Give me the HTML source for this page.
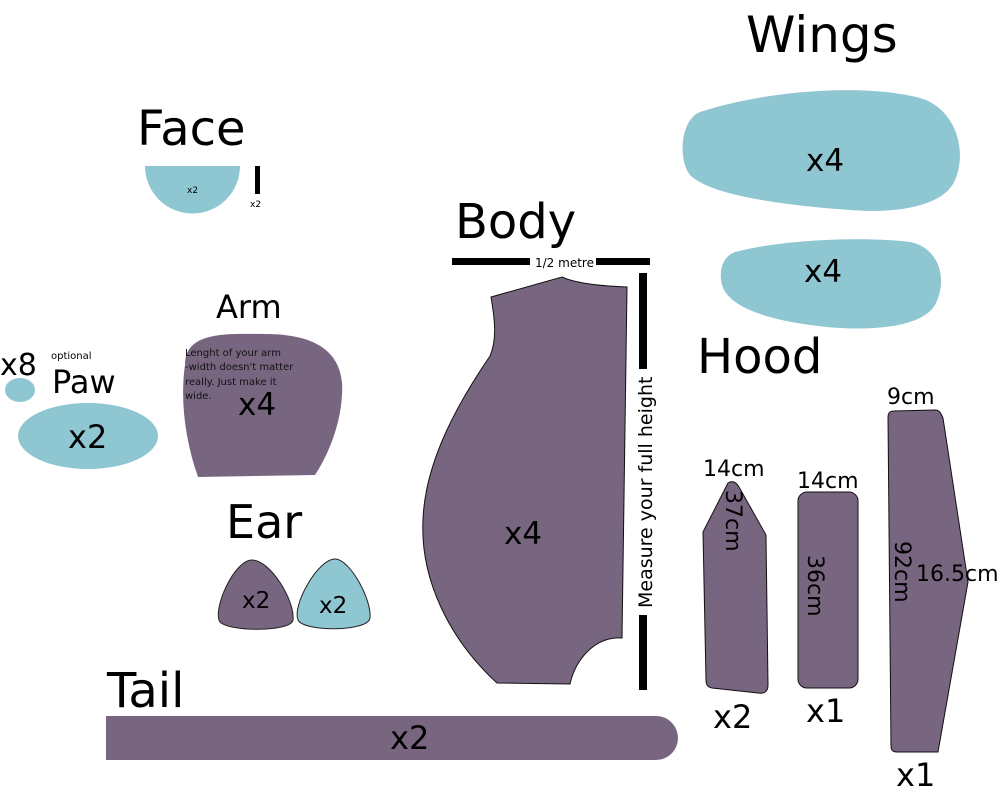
<!DOCTYPE html>
<html><head><meta charset="utf-8"><style>
html,body{margin:0;padding:0;background:#fff;}
svg{display:block;font-family:"DejaVu Sans","Liberation Sans",sans-serif;}
</style></head><body>
<svg width="1003" height="796" viewBox="0 0 1003 796" xmlns="http://www.w3.org/2000/svg">
<g fill="#000">
<text x="137" y="145" font-size="48">Face</text>
<text x="455" y="238" font-size="48">Body</text>
<text x="746" y="52" font-size="50">Wings</text>
<text x="697" y="373" font-size="48">Hood</text>
<text x="216" y="318" font-size="32">Arm</text>
<text x="226" y="538" font-size="46">Ear</text>
<text x="107" y="707" font-size="48">Tail</text>
<text x="52" y="393" font-size="32">Paw</text>
<text x="51" y="359" font-size="10">optional</text>
<text x="0" y="375" font-size="30">x8</text>
</g>
<!-- Face -->
<path d="M145,166 L240,166 A47,47 0 0 1 145,166 Z" fill="#8ec6d2"/>
<text x="187" y="193" font-size="9">x2</text>
<rect x="255" y="166" width="5" height="28" fill="#000"/>
<text x="250" y="207" font-size="9">x2</text>
<!-- Paw -->
<ellipse cx="20" cy="390" rx="15" ry="12" fill="#8ec6d2"/>
<ellipse cx="88" cy="436" rx="70" ry="33" fill="#8ec6d2"/>
<text x="68" y="448" font-size="32">x2</text>
<!-- Arm -->
<path d="M185,365 C185,330 230,334 265,334 C320,334 345,355 342,395 C340,430 325,460 315,475 L198,477 C185,440 180,400 185,365 Z" fill="#786680"/>
<g font-size="10" fill="#111"><text x="185" y="356">Lenght of your arm</text><text x="185" y="370">-width doesn't matter</text><text x="185" y="385">really. Just make it</text><text x="185" y="399">wide.</text></g>
<text x="238" y="415" font-size="31">x4</text>
<!-- Ear -->
<path d="M252,560 C270,560 295,600 293,620 C291,632 230,632 220,622 C212,610 234,560 252,560 Z" fill="#786680" stroke="#222" stroke-width="1"/>
<text x="242" y="608" font-size="23">x2</text>
<path d="M335,559 C350,559 372,600 370,618 C368,632 304,632 298,620 C292,605 318,559 335,559 Z" fill="#8ec6d2" stroke="#222" stroke-width="1"/>
<text x="319" y="613" font-size="23">x2</text>
<!-- Tail -->
<path d="M106,716 L656,716 A22,22 0 0 1 656,760 L106,760 Z" fill="#786680"/>
<text x="390" y="749" font-size="32">x2</text>
<!-- Body -->
<rect x="452" y="258" width="78" height="7" fill="#000"/>
<rect x="596" y="258" width="54" height="7" fill="#000"/>
<text x="535" y="267" font-size="12">1/2 metre</text>
<rect x="639" y="273" width="8" height="96" fill="#000"/>
<rect x="639" y="615" width="8" height="75" fill="#000"/>
<text transform="translate(652,608) rotate(-90)" font-size="19">Measure your full height</text>
<path d="M491,297 L562,277 C575,283 600,286 627,287 L622,638 C595,636 575,660 570,684 L497,683 C450,640 420,580 423,520 C425,460 460,400 490,356 C497,340 495,320 491,297 Z" fill="#786680" stroke="#111" stroke-width="1"/>
<text x="504" y="544" font-size="31">x4</text>
<!-- Wings -->
<path d="M700,112 C760,92 860,82 920,98 C955,108 968,150 955,180 C945,205 900,214 850,210 C780,205 710,195 690,175 C678,160 680,120 700,112 Z" fill="#8ec6d2"/>
<text x="806" y="171" font-size="31">x4</text>
<path d="M735,252 C780,240 860,236 910,242 C940,248 948,280 935,305 C920,330 860,332 810,325 C760,318 728,305 722,285 C718,268 724,256 735,252 Z" fill="#8ec6d2"/>
<text x="804" y="282" font-size="31">x4</text>
<!-- Hood pieces -->
<path d="M728,483 C732,480 736,482 739,487 L766,535 L768,685 C768,692 764,694 758,693 L712,688 C707,687 706,684 706,680 L703,532 Z" fill="#786680" stroke="#111" stroke-width="1"/>
<text x="703" y="476" font-size="22">14cm</text>
<text transform="translate(726,490) rotate(90)" font-size="22">37cm</text>
<text x="713" y="728" font-size="32">x2</text>
<rect x="798" y="492" width="60" height="196" rx="9" fill="#786680" stroke="#111" stroke-width="1"/>
<text x="797" y="488" font-size="22">14cm</text>
<text transform="translate(808,555) rotate(90)" font-size="22">36cm</text>
<text x="806" y="722" font-size="32">x1</text>
<path d="M894,411 L935,410 C940,410 941,414 943,418 L968,582 L938,752 L897,752 C893,752 891,750 891,746 L888,417 C888,413 890,411 894,411 Z" fill="#786680" stroke="#111" stroke-width="1"/>
<text x="887" y="404" font-size="22">9cm</text>
<text transform="translate(895,541) rotate(90)" font-size="22">92cm</text>
<text x="916" y="581" font-size="22">16.5cm</text>
<text x="896" y="786" font-size="32">x1</text>
</svg>
</body></html>
